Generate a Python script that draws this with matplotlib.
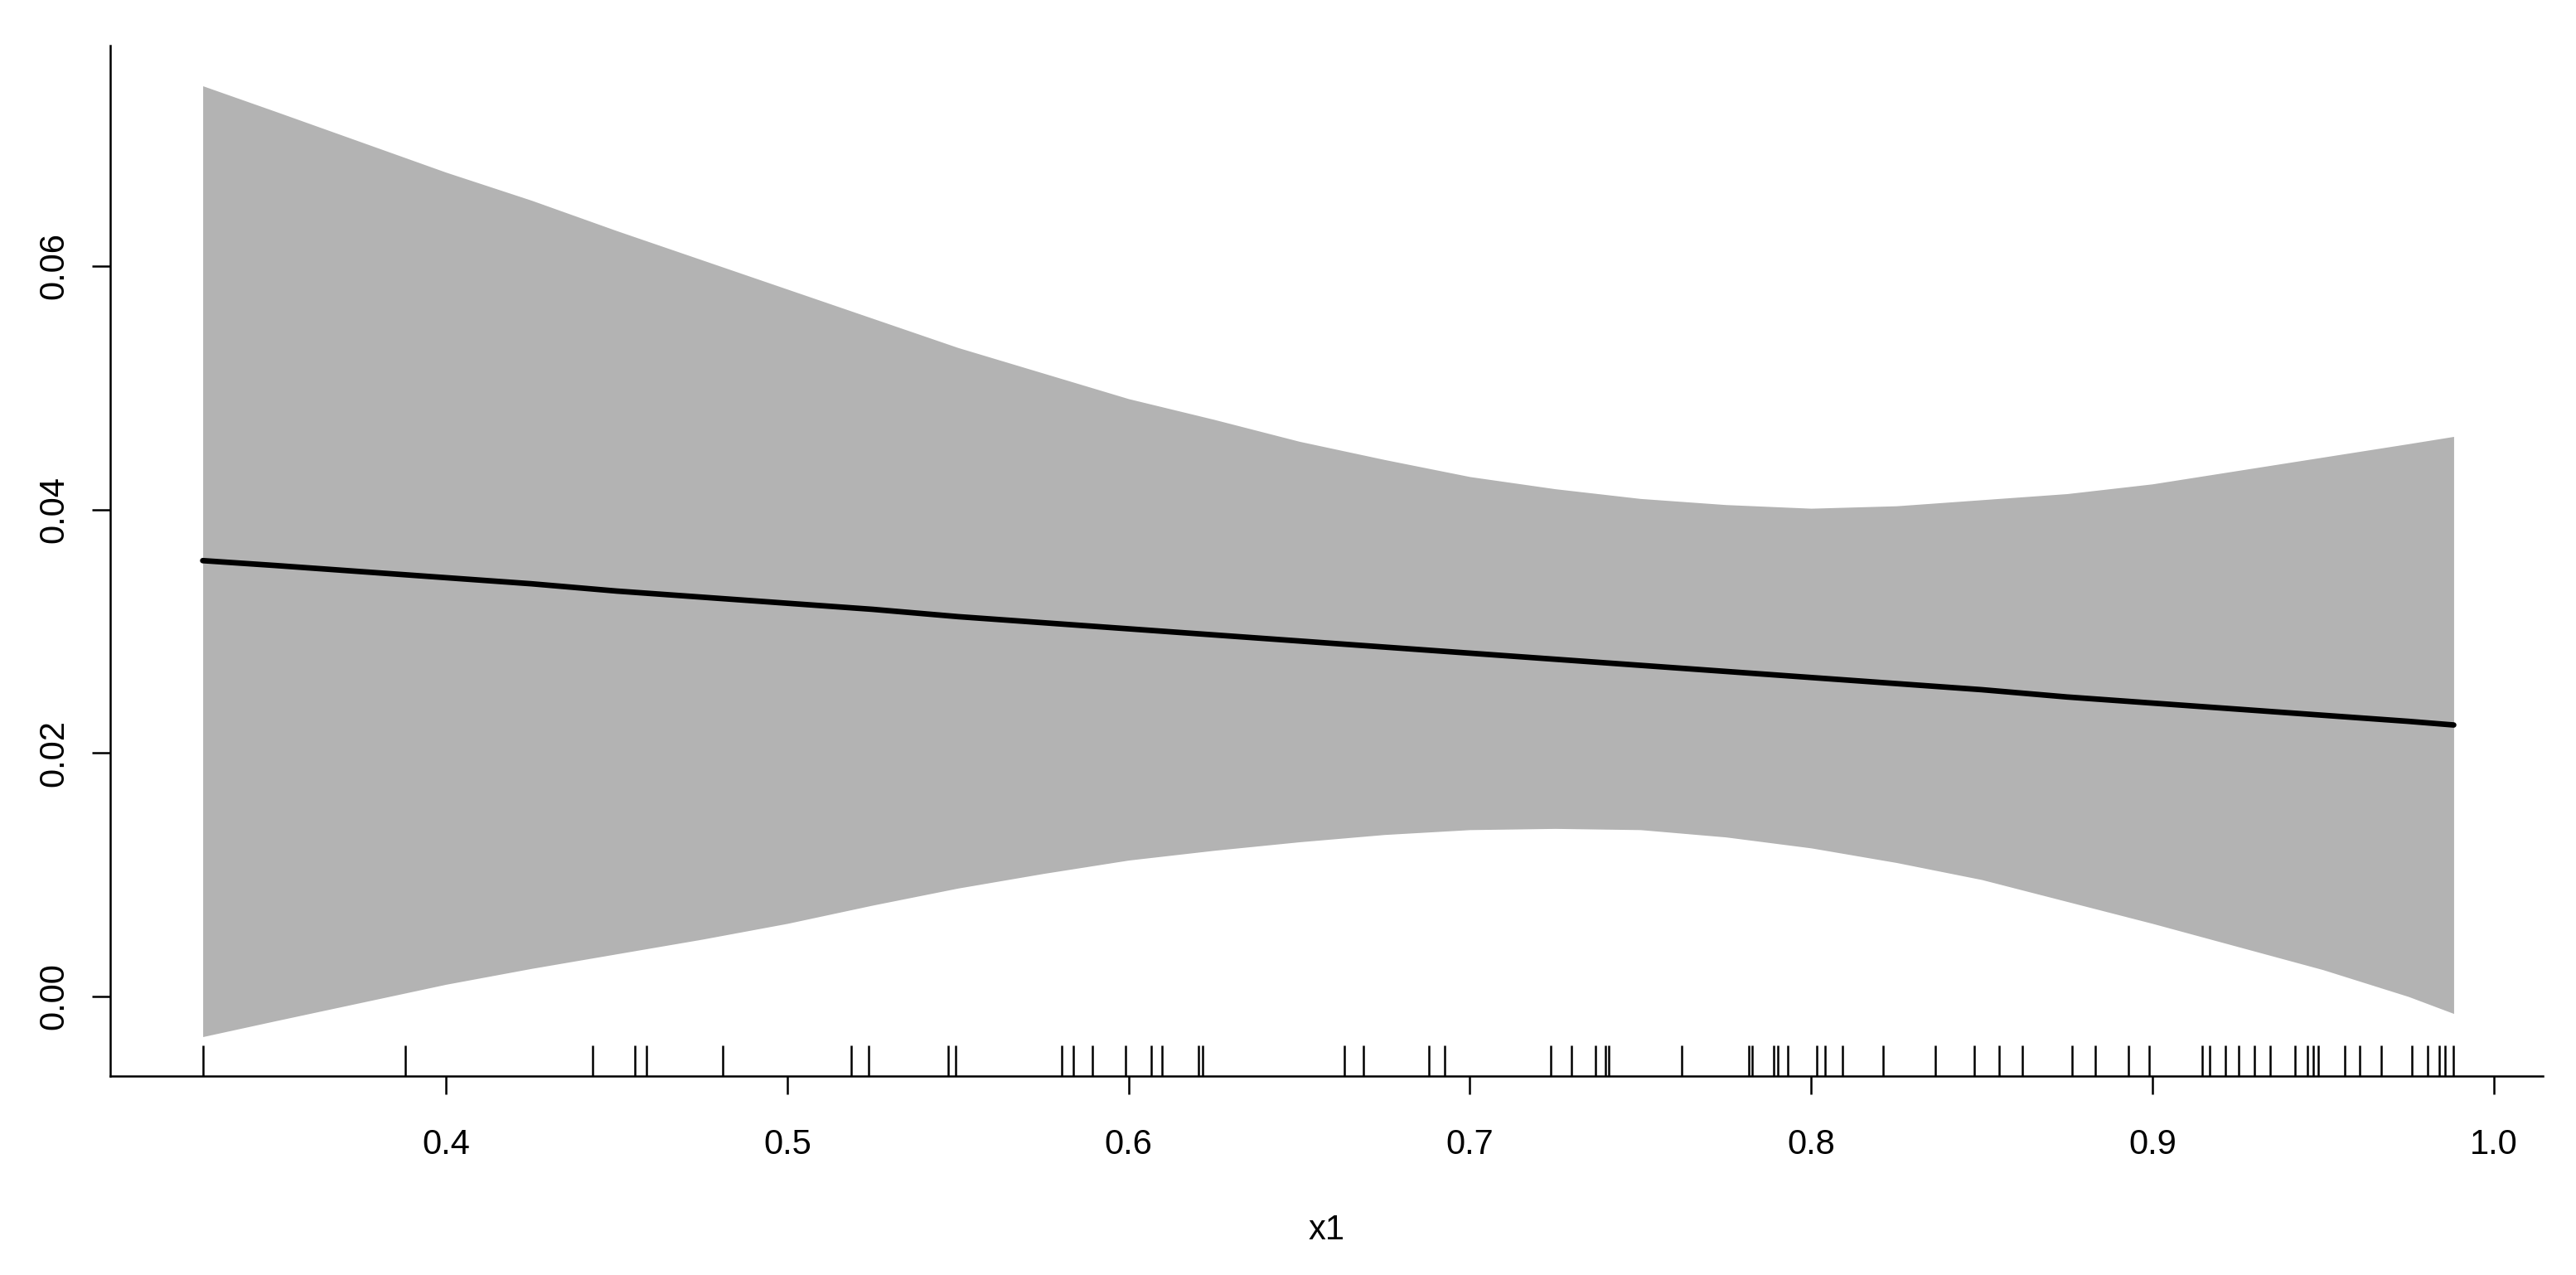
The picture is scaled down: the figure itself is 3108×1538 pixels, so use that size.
import matplotlib
matplotlib.use("Agg")
import matplotlib.pyplot as plt

plt.rcParams['font.family'] = ['Liberation Sans', 'DejaVu Sans']

# smooth term of x1: grid, fit and confidence band
x_grid = [0.3287, 0.35, 0.375, 0.40, 0.425, 0.45, 0.475, 0.50, 0.525, 0.55,
          0.575, 0.60, 0.625, 0.65, 0.675, 0.70, 0.725, 0.75, 0.775, 0.80,
          0.825, 0.85, 0.875, 0.90, 0.925, 0.95, 0.975, 0.9883]
fit = [0.0358, 0.0354, 0.0349, 0.0344, 0.0339, 0.0333, 0.0328, 0.0323,
       0.0318, 0.0312, 0.0307, 0.0302, 0.0297, 0.0292, 0.0287, 0.0282,
       0.0277, 0.0272, 0.0267, 0.0262, 0.0257, 0.0252, 0.0246, 0.0241,
       0.0236, 0.0231, 0.0226, 0.0223]
upper = [0.0748, 0.0727, 0.0702, 0.0677, 0.0654, 0.0629, 0.0605, 0.0581,
         0.0557, 0.0533, 0.0512, 0.0491, 0.0474, 0.0456, 0.0441, 0.0427,
         0.0417, 0.0409, 0.0404, 0.0401, 0.0403, 0.0408, 0.0413, 0.0421,
         0.0432, 0.0443, 0.0454, 0.0460]
lower = [-0.0033, -0.0020, -0.0005, 0.0010, 0.0023, 0.0035, 0.0047, 0.0060,
         0.0075, 0.0089, 0.0101, 0.0112, 0.0120, 0.0127, 0.0133, 0.0137,
         0.0138, 0.0137, 0.0131, 0.0122, 0.0110, 0.0096, 0.0078, 0.0060,
         0.0041, 0.0022, 0.0000, -0.0014]

# observed x1 values (rug)
rug_x = [0.3288, 0.3881, 0.4429, 0.4554, 0.4588, 0.4811, 0.5188, 0.5239,
         0.5472, 0.5494, 0.5805, 0.5837, 0.5895, 0.5992, 0.6066, 0.6099,
         0.6206, 0.6216, 0.6632, 0.6688, 0.6881, 0.6926, 0.7236, 0.7298,
         0.7367, 0.7398, 0.7408, 0.7622, 0.7817, 0.7828, 0.7891, 0.7902,
         0.7932, 0.8017, 0.8040, 0.8091, 0.8210, 0.8365, 0.8479, 0.8552,
         0.8620, 0.8764, 0.8833, 0.8931, 0.8991, 0.9145, 0.9168, 0.9213,
         0.9254, 0.9298, 0.9344, 0.9419, 0.9455, 0.9472, 0.9487, 0.9563,
         0.9608, 0.9671, 0.9761, 0.9807, 0.9841, 0.9858, 0.9881]

x_ticks = [0.4, 0.5, 0.6, 0.7, 0.8, 0.9, 1.0]
y_ticks = [0.00, 0.02, 0.04, 0.06]

fig = plt.figure(figsize=(31.08, 15.38), dpi=100)
ax = fig.add_axes([0.0428, 0.156, 0.9443, 0.8082])

ax.fill_between(x_grid, lower, upper, color='#b3b3b3', linewidth=0)
ax.plot(x_grid, fit, color='black', linewidth=4.8, solid_capstyle='round')
ax.vlines(rug_x, 0, 0.03, transform=ax.get_xaxis_transform(),
          color='black', linewidth=1.8)

ax.set_xlim(0.3016, 1.0144)
ax.set_ylim(-0.00654, 0.0781)

ax.spines['top'].set_visible(False)
ax.spines['right'].set_visible(False)
for s in ('left', 'bottom'):
    ax.spines[s].set_linewidth(1.8)

ax.set_xticks(x_ticks)
ax.set_xticklabels(['%.1f' % v for v in x_ticks])
ax.set_yticks(y_ticks)
ax.set_yticklabels(['%.2f' % v for v in y_ticks], rotation=90, va='center')
ax.tick_params(axis='both', length=16, width=1.8, labelsize=30)
ax.tick_params(axis='x', pad=29)
ax.tick_params(axis='y', pad=18)

ax.set_xlabel('x1', fontsize=30, labelpad=46)

fig.savefig('out.png', dpi=100)
